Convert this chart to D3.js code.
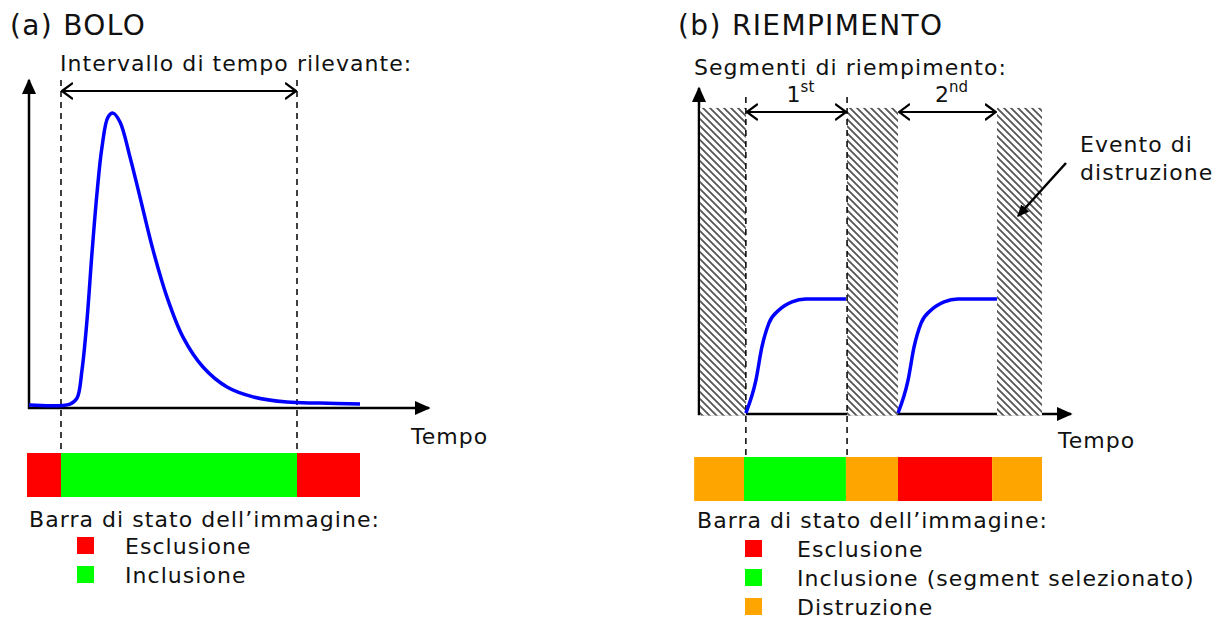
<!DOCTYPE html>
<html>
<head>
<meta charset="utf-8">
<script src="https://cdn.jsdelivr.net/npm/d3@7"></script>
<style>
  body { margin: 0; background: #fff; }
  svg text { font-family: "DejaVu Sans", Verdana, sans-serif; fill: #111; }
  .lbl { font-size: 22px; letter-spacing: 1.05px; }
  .ttl { font-size: 28px; letter-spacing: 1.35px; }
</style>
</head>
<body>
<div id="chart-area"></div>
<script>
// (a) BOLO - bolus curve, time in arbitrary units 0..100, signal 0..1
var bolusTime = [0, 10.25, 12, 13.25, 14.5, 15.75, 17, 18.25, 19.75, 21, 22.75, 25.25, 27.75, 31, 34.5, 38.5, 43.5, 49.5, 56, 64.5, 72.75, 82.75];
var bolusValue = [0.009, 0.012, 0.03, 0.116, 0.268, 0.473, 0.655, 0.796, 0.887, 0.899, 0.872, 0.765, 0.643, 0.482, 0.338, 0.216, 0.125, 0.064, 0.034, 0.018, 0.015, 0.012];
var bolusWindow = [8, 67];
var bolusBarStart = [-0.5, 8, 67];
var bolusBarEnd = [8, 67, 82.75];
var bolusBarState = ["excl", "incl", "excl"];

// (b) RIEMPIMENTO - fill segments
var fillShapeDt = [0, 2.7, 4.3, 6.2, 8.9, 12.4, 16.1, 26.9];
var fillShapeValue = [0.003, 0.104, 0.205, 0.279, 0.319, 0.344, 0.353, 0.353];
var fillStarts = [12.6, 53.5];
var fillLabels = ["1", "2"];
var fillSup = ["st", "nd"];
var destrStart = [0.3, 39.8, 80.1];
var destrEnd = [12.6, 53.5, 92.2];
var fillBarStart = [-1.3, 12.1, 39.5, 53.5, 78.8];
var fillBarEnd = [12.1, 39.5, 53.5, 78.8, 92.2];
var fillBarState = ["destr", "incl", "destr", "excl", "destr"];

var stateColor = { excl: "#ff0000", incl: "#00ff00", destr: "#ffa500" };
var legendA = [["excl", "Esclusione"], ["incl", "Inclusione"]];
var legendB = [["excl", "Esclusione"], ["incl", "Inclusione (segment selezionato)"], ["destr", "Distruzione"]];

const svg = d3.select("#chart-area").append("svg")
  .attr("width", 1229).attr("height", 621);

const defs = svg.append("defs");
defs.append("marker").attr("id", "tri")
  .attr("viewBox", "0 0 10 10").attr("refX", 9).attr("refY", 5)
  .attr("markerWidth", 12).attr("markerHeight", 12).attr("markerUnits", "userSpaceOnUse")
  .attr("orient", "auto")
  .append("path").attr("d", "M0,0.5 L10,5 L0,9.5 Z").attr("fill", "#000");
defs.append("marker").attr("id", "axtri")
  .attr("viewBox", "0 0 10 10").attr("refX", 9).attr("refY", 5)
  .attr("markerWidth", 16).attr("markerHeight", 16).attr("markerUnits", "userSpaceOnUse")
  .attr("orient", "auto")
  .append("path").attr("d", "M0,0.5 L10,5 L0,9.5 Z").attr("fill", "#000");
defs.append("marker").attr("id", "chev")
  .attr("viewBox", "0 0 12 20").attr("refX", 11).attr("refY", 10)
  .attr("markerWidth", 12).attr("markerHeight", 20).attr("markerUnits", "userSpaceOnUse")
  .attr("orient", "auto-start-reverse")
  .append("path").attr("d", "M0,2 L11,10 L0,18").attr("fill", "none")
  .attr("stroke", "#000").attr("stroke-width", 2.2);
const pat = defs.append("pattern").attr("id", "hatch")
  .attr("patternUnits", "userSpaceOnUse").attr("width", 7).attr("height", 7);
pat.append("rect").attr("width", 7).attr("height", 7).attr("fill", "#fff");
pat.append("path").attr("d", "M-1,-1 L8,8 M-1,6 L1,8 M6,-1 L8,1")
  .attr("stroke", "#555").attr("stroke-width", 1.8);

function addLegend(g, items, x0, y0, boxX, labelX, rowH, rowOff) {
  g.append("text").attr("class", "lbl").attr("x", x0).attr("y", y0)
    .text("Barra di stato dell\u2019immagine:");
  items.forEach(function(d, i) {
    g.append("rect").attr("x", boxX).attr("y", y0 + rowOff + i * rowH)
      .attr("width", 17).attr("height", 17).attr("fill", stateColor[d[0]]);
    g.append("text").attr("class", "lbl").attr("x", labelX).attr("y", y0 + rowOff + 17 + i * rowH)
      .text(d[1]);
  });
}

// ---------- (a) BOLO ----------
const ga = svg.append("g");
const xa = d3.scaleLinear().domain([0, 100]).range([29, 429]);
const ya = d3.scaleLinear().domain([0, 1]).range([408, 80]);

ga.append("text").attr("class", "ttl").attr("x", 10).attr("y", 35).text("(a) BOLO");
ga.append("text").attr("class", "lbl").attr("x", 60).attr("y", 71).text("Intervallo di tempo rilevante:");

// dashed window lines
ga.selectAll(".win").data(bolusWindow).enter().append("line")
  .attr("x1", d => xa(d)).attr("x2", d => xa(d))
  .attr("y1", ya(1)).attr("y2", 453)
  .attr("stroke", "#000").attr("stroke-width", 1.5).attr("stroke-dasharray", "6,5");
ga.append("line")
  .attr("x1", xa(bolusWindow[0]) + 1).attr("x2", xa(bolusWindow[1]) - 1)
  .attr("y1", 91).attr("y2", 91)
  .attr("stroke", "#000").attr("stroke-width", 2)
  .attr("marker-start", "url(#chev)").attr("marker-end", "url(#chev)");

// axes
ga.append("line").attr("x1", xa(0)).attr("x2", xa(0)).attr("y1", ya(0) + 1).attr("y2", ya(1))
  .attr("stroke", "#000").attr("stroke-width", 2.5).attr("marker-end", "url(#axtri)");
ga.append("line").attr("x1", xa(0) - 1).attr("x2", xa(100)).attr("y1", ya(0)).attr("y2", ya(0))
  .attr("stroke", "#000").attr("stroke-width", 2.5).attr("marker-end", "url(#axtri)");
ga.append("text").attr("class", "lbl").attr("x", 411).attr("y", 444).text("Tempo");

// curve
const bolus = bolusTime.map((t, i) => [t, bolusValue[i]]);
ga.append("path").datum(bolus)
  .attr("d", d3.line().x(d => xa(d[0])).y(d => ya(d[1])).curve(d3.curveCatmullRom))
  .attr("fill", "none").attr("stroke", "#0000ff").attr("stroke-width", 3.5);

// status bar
ga.selectAll(".bar").data(bolusBarState).enter().append("rect")
  .attr("x", (d, i) => xa(bolusBarStart[i]))
  .attr("width", (d, i) => xa(bolusBarEnd[i]) - xa(bolusBarStart[i]))
  .attr("y", 453).attr("height", 44)
  .attr("fill", d => stateColor[d]);

addLegend(ga, legendA, 29, 527, 77, 125, 29, 10);

// ---------- (b) RIEMPIMENTO ----------
const gb = svg.append("g");
const xb = d3.scaleLinear().domain([0, 100]).range([699, 1071]);
const yb = d3.scaleLinear().domain([0, 1]).range([414, 88]);

gb.append("text").attr("class", "ttl").attr("x", 678).attr("y", 35).text("(b) RIEMPIMENTO");
gb.append("text").attr("class", "lbl").attr("x", 694).attr("y", 75).text("Segmenti di riempimento:");

// axes first, hatch on top
gb.append("line").attr("x1", xb(0)).attr("x2", xb(0)).attr("y1", yb(0) + 1).attr("y2", yb(1))
  .attr("stroke", "#000").attr("stroke-width", 2.5).attr("marker-end", "url(#axtri)");
gb.append("line").attr("x1", xb(0) - 1).attr("x2", xb(100)).attr("y1", yb(0)).attr("y2", yb(0))
  .attr("stroke", "#000").attr("stroke-width", 2.5).attr("marker-end", "url(#axtri)");

gb.selectAll(".destr").data(destrStart).enter().append("rect")
  .attr("x", d => xb(d))
  .attr("width", (d, i) => xb(destrEnd[i]) - xb(d))
  .attr("y", yb(0.939)).attr("height", yb(0) + 1.5 - yb(0.939))
  .attr("fill", "url(#hatch)");

// dashed lines for the selected segment
[destrEnd[0], destrStart[1]].forEach(function(t) {
  gb.append("line").attr("x1", xb(t)).attr("x2", xb(t))
    .attr("y1", 97).attr("y2", 457)
    .attr("stroke", "#000").attr("stroke-width", 1.5).attr("stroke-dasharray", "6,5");
});

// segment arrows and labels
fillStarts.forEach(function(s, i) {
  gb.append("line").attr("x1", xb(destrEnd[i]) + 1).attr("x2", xb(destrStart[i + 1]) - 1)
    .attr("y1", 112).attr("y2", 112)
    .attr("stroke", "#000").attr("stroke-width", 2)
    .attr("marker-start", "url(#chev)").attr("marker-end", "url(#chev)");
  const cx = (xb(destrEnd[i]) + xb(destrStart[i + 1])) / 2;
  const t = gb.append("text").attr("x", cx + 4).attr("y", 102)
    .attr("text-anchor", "middle").style("font-size", "22px");
  t.append("tspan").text(fillLabels[i]);
  t.append("tspan").attr("dy", -10).style("font-size", "15px").text(fillSup[i]);
});

// fill curves
const lineB = d3.line().x(d => xb(d[0])).y(d => yb(d[1])).curve(d3.curveMonotoneX);
fillStarts.forEach(function(s, i) {
  const pts = fillShapeDt.map((dt, j) => [Math.min(s + dt, destrStart[i + 1]), fillShapeValue[j]]);
  gb.append("path").datum(pts).attr("d", lineB)
    .attr("fill", "none").attr("stroke", "#0000ff").attr("stroke-width", 3.5);
});

gb.append("text").attr("class", "lbl").attr("x", 1058).attr("y", 448).text("Tempo");

// destruction event annotation
gb.append("text").attr("class", "lbl").attr("x", 1080).attr("y", 152).text("Evento di");
gb.append("text").attr("class", "lbl").attr("x", 1080).attr("y", 180).text("distruzione");
gb.append("line").attr("x1", 1066).attr("y1", 163).attr("x2", 1018).attr("y2", 216)
  .attr("stroke", "#000").attr("stroke-width", 2.5).attr("marker-end", "url(#tri)");

// status bar
gb.selectAll(".bar").data(fillBarState).enter().append("rect")
  .attr("x", (d, i) => xb(fillBarStart[i]))
  .attr("width", (d, i) => xb(fillBarEnd[i]) - xb(fillBarStart[i]))
  .attr("y", 457).attr("height", 44)
  .attr("fill", d => stateColor[d]);

addLegend(gb, legendB, 697, 528, 745, 797, 29, 12);
</script>
</body>
</html>
